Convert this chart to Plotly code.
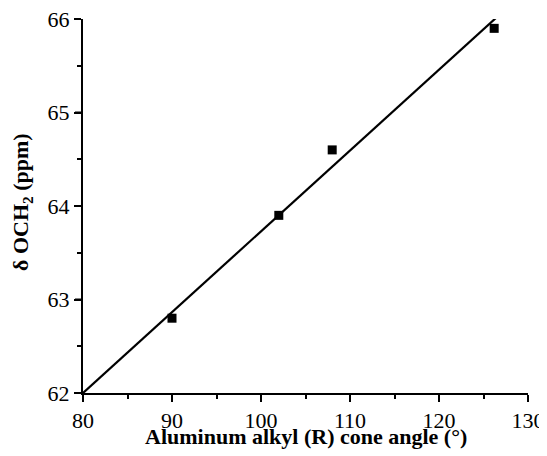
import plotly.graph_objects as go

cone_angle = [90, 102, 108, 126.2]
delta_och2 = [62.8, 63.9, 64.6, 65.9]
fit_x = [80, 126.5]
fit_y = [62.0, 66.02]

x_major = [80, 90, 100, 110, 120, 130]
x_minor = [85, 95, 105, 115, 125]
y_major = [62, 63, 64, 65, 66]
y_minor = [62.5, 63.5, 64.5, 65.5]
x_range = [80, 130]
y_range = [62, 66]

fam = "Liberation Serif"
black = "#000000"
tickfont = dict(size=22, family=fam, color=black)

fig = go.Figure()
fig.add_trace(go.Scatter(x=fit_x, y=fit_y, mode="lines",
                         line=dict(color=black, width=2.2), showlegend=False))
fig.add_trace(go.Scatter(x=cone_angle, y=delta_och2, mode="markers",
                         marker=dict(symbol="square", size=9, color=black),
                         showlegend=False))
# invisible trace hosting the minor-tick axes
fig.add_trace(go.Scatter(x=[x_range[0]], y=[y_range[0]], xaxis="x2", yaxis="y2",
                         mode="markers", marker=dict(opacity=0),
                         showlegend=False, hoverinfo="skip"))

base = dict(ticks="outside", tickwidth=2, tickcolor=black, showgrid=False,
            zeroline=False, automargin=False)
fig.update_layout(
    width=539, height=448,
    margin=dict(l=75, r=19, t=11, b=63, autoexpand=False),
    plot_bgcolor="white", paper_bgcolor="white",
    font=dict(size=22, family=fam, color=black),
    xaxis=dict(range=x_range, tickmode="array", tickvals=x_major, ticklen=7,
               showline=True, linecolor=black, linewidth=2, ticklabeloverflow="allow",
               tickfont=tickfont, **base),
    yaxis=dict(range=y_range, tickmode="array", tickvals=y_major, ticklen=7,
               showline=True, linecolor=black, linewidth=2, ticklabeloverflow="allow",
               tickfont=tickfont, **base),
    xaxis2=dict(range=x_range, tickmode="array", tickvals=x_minor, ticklen=5,
                showline=False, showticklabels=False,
                overlaying="x", anchor="y2", side="bottom", **base),
    yaxis2=dict(range=y_range, tickmode="array", tickvals=y_minor, ticklen=5,
                showline=False, showticklabels=False,
                overlaying="y", anchor="x2", side="left", **base),
    annotations=[
        dict(text="<b>Aluminum alkyl (R) cone angle (°)</b>", xref="paper", yref="paper",
             x=0.5, y=-0.117, xanchor="center", yanchor="middle", showarrow=False,
             font=dict(size=22, family=fam, color=black)),
        dict(text="<b>δ OCH<sub>2</sub> (ppm)</b>", xref="paper", yref="paper",
             x=-0.137, y=0.5107, xanchor="center", yanchor="middle", showarrow=False,
             textangle=-90, font=dict(size=22, family=fam, color=black)),
    ],
)

# major tick marks: placed by the axes' own scales, pixel length, outside the plot
for xv in x_major:
    fig.add_shape(type="line", xref="x", yref="y domain", x0=xv, x1=xv,
                  ysizemode="pixel", yanchor=0, y0=0, y1=-8,
                  line=dict(color=black, width=2), layer="above")
for yv in y_major:
    fig.add_shape(type="line", xref="x domain", yref="y", y0=yv, y1=yv,
                  xsizemode="pixel", xanchor=0, x0=0, x1=-8,
                  line=dict(color=black, width=2), layer="above")

fig.write_html("out.html")
